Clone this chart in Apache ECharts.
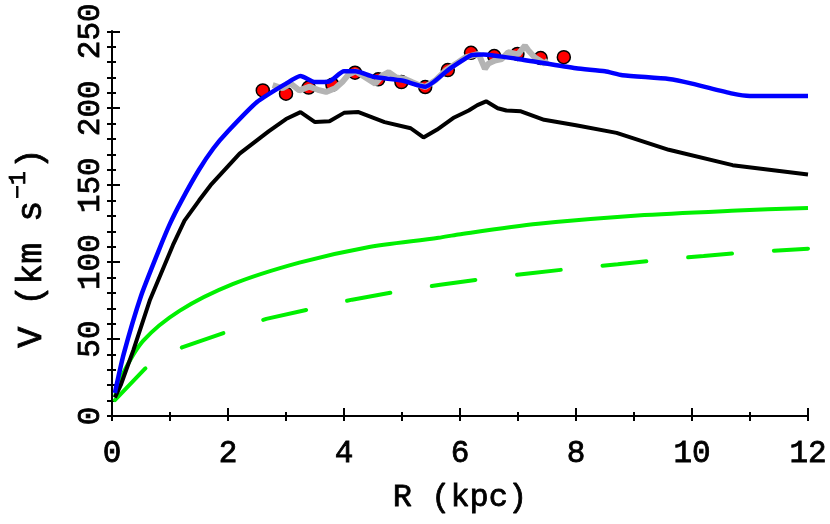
<!DOCTYPE html>
<html>
<head>
<meta charset="utf-8">
<script src="https://cdn.jsdelivr.net/npm/echarts@6/dist/echarts.min.js"></script>
<style>
  html, body { margin: 0; padding: 0; background: #fff; }
  #chart { width: 830px; height: 524px; }
</style>
</head>
<body>
<div id="chart"></div>
<script>
// total model (blue)
const rBlue = [0.05, 0.2, 0.5, 0.8, 1.0, 1.2, 1.5, 1.75, 2.0, 2.5, 3.0, 3.25, 3.5, 3.75, 4.0, 4.2, 4.5, 5.0, 5.4, 5.8, 6.2, 6.4, 7.0, 8.0, 8.5, 8.8, 9.6, 10.0, 10.7, 11.0, 12.0];
const vBlue = [15, 40, 78, 107, 125, 140, 160, 174, 185, 204, 216, 221, 217, 217.5, 224, 224, 220.5, 218, 214, 225, 234.5, 235, 232, 226, 224, 221.5, 219, 216, 209.5, 208, 208];

// black curve
const rBlack = [0.05, 0.15, 0.37, 0.65, 1.05, 1.25, 1.5, 1.7, 2.2, 2.7, 3.0, 3.25, 3.5, 3.75, 4.0, 4.25, 4.7, 5.15, 5.37, 5.6, 5.9, 6.15, 6.3, 6.45, 6.65, 6.8, 7.05, 7.45, 8.0, 8.7, 9.6, 10.7, 12.0];
const vBlack = [12, 20, 43, 75, 111, 127, 140, 150, 170.5, 185, 193, 197.5, 191, 191.5, 197, 197.5, 191, 187, 181, 186, 194, 198.5, 202, 204.5, 200, 198.5, 198, 192.5, 189, 184, 173, 163, 157];

// green solid
const rGreen = [0.05, 0.19, 0.54, 1.17, 2.08, 3.23, 4.37, 5.63, 5.97, 7.35, 9.06, 10.78, 12.0];
const vGreen = [12.5, 27.6, 49, 68.5, 85.7, 99.7, 109.4, 115.8, 118, 124.9, 130.3, 133.5, 135.2];

// green dashed
const rGreenDash = [0.05, 0.57, 1.22, 1.97, 2.66, 3.43, 4.14, 4.94, 5.66, 6.43, 7.18, 7.98, 8.72, 9.49, 10.2, 11.0, 12.0];
const vGreenDash = [10.3, 30.8, 44.8, 54.5, 63.1, 69.6, 75.6, 81, 85.3, 89.3, 92.6, 96, 98.6, 101.7, 104, 106.6, 108.7];

// observed rotation curve (grey)
const rGrey = [2.77, 2.94, 3.08, 3.23, 3.4, 3.55, 3.69, 3.85, 3.97, 4.08, 4.2, 4.37, 4.54, 4.65, 4.77, 4.9, 5.05, 5.17, 5.3, 5.4, 5.57, 5.75, 5.97, 6.09, 6.32, 6.43, 6.49, 6.6, 6.72, 6.83, 7.0, 7.12, 7.18, 7.29, 7.46, 7.52];
const vGrey = [215, 213, 216, 211.6, 214, 212, 210.6, 213, 217, 222, 224, 220, 216, 221, 223.5, 220, 219, 217, 215, 213.8, 218, 224.5, 229.9, 233, 235.3, 225.6, 229, 231, 232, 236.4, 235, 240.7, 237.5, 233, 229, 231];

// data points (red)
const rPts = [2.6, 3.0, 3.39, 3.8, 4.19, 4.59, 4.99, 5.4, 5.79, 6.19, 6.59, 6.99, 7.39, 7.79];
const vPts = [211.6, 209.5, 213.4, 215.3, 223.1, 218.8, 217, 213.8, 224.8, 236, 233.9, 235.3, 232.6, 233.2];

const pairs = (xs, ys) => xs.map((x, i) => [x, ys[i]]);

const FONT = "Liberation Mono";
const txt = { fontFamily: FONT, color: "#000", textBorderColor: "#000", textBorderWidth: 0.8 };

// y title with superscript (zrender style names here)
const zr = { fontFamily: FONT, fill: "#000", stroke: "#000", lineWidth: 0.8 };

const chart = echarts.init(document.getElementById("chart"));
chart.setOption({
  animation: false,
  backgroundColor: "#fff",
  grid: { left: 112, right: 19, top: 29, bottom: 108 },
  graphic: [
    {
      type: "text",
      x: 32,
      y: 248,
      rotation: Math.PI / 2,
      style: {
        text: "{c|V (km s}{s|−1}{c|)}",
        align: "center",
        verticalAlign: "middle",
        rich: {
          c: { ...zr, fontSize: 35 },
          s: { ...zr, fontSize: 23, padding: [0, 2, 26, 2] },
        },
      },
    },
  ],
  xAxis: [
    {
      type: "value",
      min: 0,
      max: 12,
      interval: 2,
      name: "R (kpc)",
      nameLocation: "middle",
      nameGap: 66,
      nameTextStyle: { ...txt, fontSize: 32 },
      axisLine: { lineStyle: { color: "#000", width: 2 } },
      axisTick: { inside: true, length: 8, lineStyle: { color: "#000", width: 2 } },
      minorTick: { show: true, splitNumber: 2, length: 4, lineStyle: { color: "#000", width: 2 } },
      axisLabel: { ...txt, fontSize: 31, margin: 22 },
      splitLine: { show: false },
    },
    {
      type: "value",
      position: "top",
      min: 0,
      max: 12,
      interval: 1,
      axisLine: { lineStyle: { color: "#000", width: 2 } },
      axisTick: { inside: true, length: 5, lineStyle: { color: "#000", width: 2 } },
      axisLabel: { show: false },
      splitLine: { show: false },
    },
  ],
  yAxis: [
    {
      type: "value",
      min: 0,
      max: 250,
      interval: 50,
      axisLine: { lineStyle: { color: "#000", width: 2 } },
      axisTick: { inside: true, length: 8, lineStyle: { color: "#000", width: 2 } },
      minorTick: { show: true, splitNumber: 5, length: 4, lineStyle: { color: "#000", width: 2 } },
      axisLabel: { ...txt, fontSize: 31, rotate: 90, margin: 6 },
      splitLine: { show: false },
    },
    {
      type: "value",
      position: "right",
      min: 0,
      max: 250,
      interval: 10,
      axisLine: { show: true, lineStyle: { color: "#000", width: 2 } },
      axisTick: { inside: true, length: 5, lineStyle: { color: "#000", width: 2 } },
      axisLabel: { show: false },
      splitLine: { show: false },
    },
  ],
  series: [
    {
      type: "line",
      data: pairs(rGreenDash, vGreenDash),
      showSymbol: false,
      lineStyle: { color: "#00f000", width: 4, type: [44, 42], cap: "round" },
    },
    {
      type: "line",
      data: pairs(rGreen, vGreen),
      showSymbol: false,
      smooth: 0.3,
      lineStyle: { color: "#00f000", width: 4 },
    },
    {
      type: "line",
      data: pairs(rBlack, vBlack),
      showSymbol: false,
      lineStyle: { color: "#000", width: 4 },
    },
    {
      type: "line",
      data: pairs(rGrey, vGrey),
      showSymbol: false,
      lineStyle: { color: "#b4b4b4", width: 6 },
    },
    {
      type: "scatter",
      data: pairs(rPts, vPts),
      symbolSize: 13,
      itemStyle: { color: "#ff0000", borderColor: "#000", borderWidth: 1.5, opacity: 1 },
    },
    {
      type: "line",
      data: pairs(rBlue, vBlue),
      showSymbol: false,
      smooth: 0.2,
      lineStyle: { color: "#0000ff", width: 4.5 },
    },
  ],
});
</script>
</body>
</html>
